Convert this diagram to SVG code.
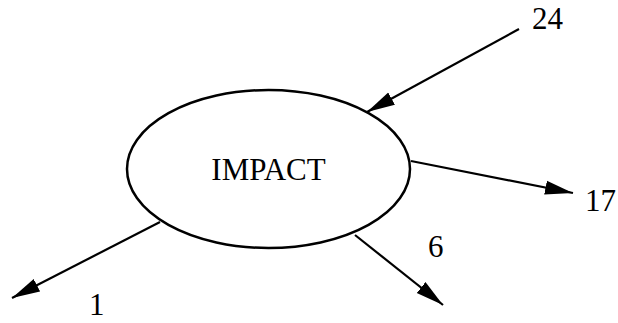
<svg xmlns="http://www.w3.org/2000/svg" width="618" height="323" viewBox="0 0 618 323">
<defs>
<style>
.lbl{font-family:"Liberation Serif","Times New Roman",serif;font-size:31px;fill:#000}
.edge{stroke:#000;stroke-width:2.2;fill:none}
</style>
<marker id="ah" markerUnits="userSpaceOnUse" markerWidth="30" markerHeight="16" viewBox="0 0 30 16" refX="28" refY="8" orient="auto">
<path d="M0,1 L28,8 L0,15 Z" fill="#000"/>
</marker>
</defs>
<rect width="618" height="323" fill="#fff"/>
<g id="connectors">
<line class="edge" x1="519" y1="29" x2="367" y2="112" marker-end="url(#ah)"/>
<line class="edge" x1="411" y1="161" x2="573" y2="193" marker-end="url(#ah)"/>
<line class="edge" x1="355" y1="235" x2="443" y2="305" marker-end="url(#ah)"/>
<line class="edge" x1="160" y1="222" x2="12" y2="298" marker-end="url(#ah)"/>
</g>
<g id="impact">
<ellipse cx="268.5" cy="169" rx="141.5" ry="79" fill="#fff" stroke="#000" stroke-width="2.5"/>
<text class="lbl" x="268.5" y="180" text-anchor="middle">IMPACT</text>
</g>
<g id="n24"><text class="lbl" x="532" y="29">24</text></g>
<g id="n17"><text class="lbl" x="585" y="211">17</text></g>
<g id="n6"><text class="lbl" x="428" y="257">6</text></g>
<g id="n1"><text class="lbl" x="89" y="315">1</text></g>
</svg>
